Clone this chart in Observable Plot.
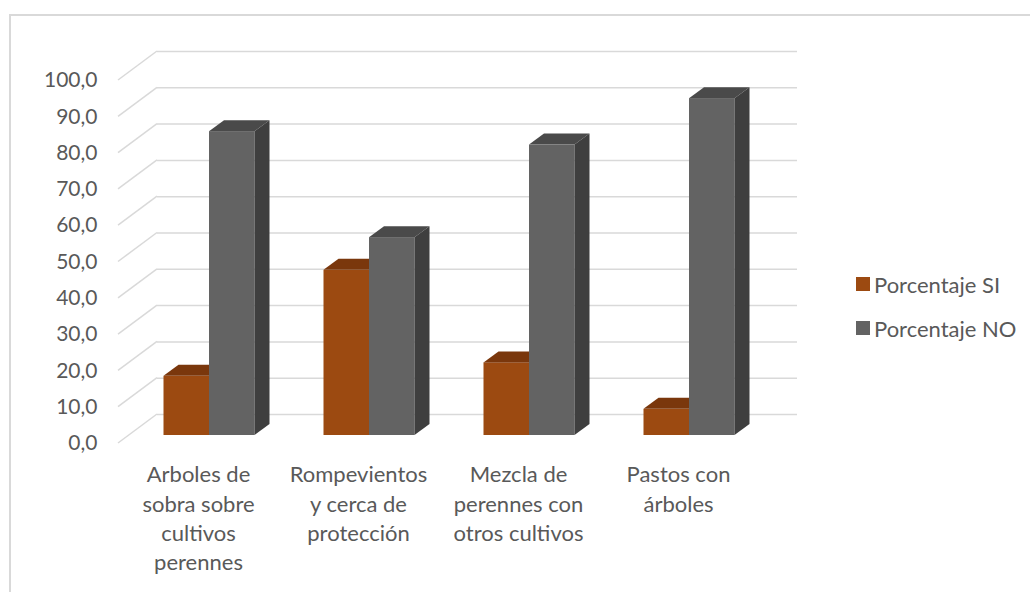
<!DOCTYPE html>
<html>
<head>
<meta charset="utf-8">
<script src="https://cdn.jsdelivr.net/npm/d3@7"></script>
<script src="https://cdn.jsdelivr.net/npm/@observablehq/plot@0.6"></script>
<style>
  body { margin: 0; background: #fff; }
  #wrap { position: relative; width: 1030px; height: 592px; overflow: hidden; font-family: Lato, "Open Sans", sans-serif; }
  #border { position: absolute; left: 9px; top: 14px; width: 1200px; height: 800px; border-top: 2px solid #d9d9d9; border-left: 2px solid #d9d9d9; }
  #chart { position: absolute; left: 0; top: 0; }
  #legend { position: absolute; left: 856px; top: 270px; color: #595959; font-size: 22px; }
  .item { display: flex; align-items: center; height: 28px; margin-bottom: 16px; white-space: nowrap; }
  .sw { width: 14px; height: 14px; margin-right: 4px; }
</style>
</head>
<body>
<div id="wrap">
  <div id="border"></div>
  <div id="chart"></div>
  <div id="legend"></div>
</div>
<script>
const categories = [
  "Arboles de\nsobra sobre\ncultivos\nperennes",
  "Rompevientos\ny cerca de\nprotección",
  "Mezcla de\nperennes con\notros cultivos",
  "Pastos con\nárboles"
];
const seriesNames = ["Porcentaje SI", "Porcentaje NO"];
const valuesSI = [16.3, 45.5, 20.0, 7.2];
const valuesNO = [83.7, 54.5, 80.0, 92.8];
const yTicks = [0, 10, 20, 30, 40, 50, 60, 70, 80, 90, 100];

const colorFront = {"Porcentaje SI": "#9c4a11", "Porcentaje NO": "#636363"};
const colorTop = {"Porcentaje SI": "#7a370c", "Porcentaje NO": "#4a4a4a"};
const colorSide = {"Porcentaje SI": "#6a300a", "Porcentaje NO": "#3f3f3f"};

const rowsSI = categories.map((c, i) => ({category: c, series: seriesNames[0], value: valuesSI[i]}));
const rowsNO = categories.map((c, i) => ({category: c, series: seriesNames[1], value: valuesNO[i]}));

const W = 1030, H = 592;
const mLeft = 129, mRight = 261, mTop = 72, mBottom = 157;
const step = (W - mLeft - mRight) / categories.length; // band step
const barW = 45.5;
const depth = [15, -11];     // bar depth offset
const back = [28, -21];      // back wall offset
const front = [-11, 8];      // front floor offset
const grid = "#d9d9d9";

function barLeft(scales, d) {
  const c = scales.x(d.category) + scales.x.bandwidth() / 2;
  return d.series === seriesNames[0] ? c - barW : c;
}

function facesMark(rows, withSide) {
  return (index, scales) => {
    const g = d3.create("svg:g");
    const y0 = scales.y(0);
    for (const d of rows) {
      const xl = barLeft(scales, d), xr = xl + barW, yt = scales.y(d.value);
      g.append("path")
        .attr("d", `M${xl},${yt}L${xr},${yt}L${xr + depth[0]},${yt + depth[1]}L${xl + depth[0]},${yt + depth[1]}Z`)
        .attr("fill", colorTop[d.series]);
      if (withSide) {
        g.append("path")
          .attr("d", `M${xr},${yt}L${xr + depth[0]},${yt + depth[1]}L${xr + depth[0]},${y0 + depth[1]}L${xr},${y0}Z`)
          .attr("fill", colorSide[d.series]);
      }
    }
    return g.node();
  };
}

function floorDiagonals(index, scales) {
  const g = d3.create("svg:g");
  const x0 = scales.x(categories[0]);
  for (const t of yTicks) {
    const yy = scales.y(t);
    g.append("line")
      .attr("x1", x0 + back[0]).attr("y1", yy + back[1])
      .attr("x2", x0 + front[0]).attr("y2", yy + front[1])
      .attr("stroke", grid).attr("stroke-width", 1.5);
  }
  return g.node();
}

const chart = Plot.plot({
  width: W,
  height: H,
  marginLeft: mLeft,
  marginRight: mRight,
  marginTop: mTop,
  marginBottom: mBottom,
  x: {type: "band", domain: categories, padding: 0},
  y: {domain: [0, 100]},
  style: {fontFamily: "Lato, 'Open Sans', sans-serif", fontSize: "21px", color: "#595959", background: "transparent", overflow: "visible"},
  marks: [
    Plot.ruleY(yTicks, {dx: back[0], dy: back[1], stroke: grid, strokeWidth: 1.5}),
    floorDiagonals,
    Plot.axisY({ticks: yTicks, tickSize: 0, tickPadding: 32, dy: 8, label: null,
      tickFormat: d => d.toFixed(1).replace(".", ","), fontSize: 21, fill: "#595959"}),
    Plot.axisX({tickSize: 0, tickPadding: 26, dx: -11, label: null, fontSize: 22, lineHeight: 1.33, fill: "#595959"}),
    Plot.barY(rowsSI, {x: "category", y: "value", fill: colorFront[seriesNames[0]],
      insetLeft: step / 2 - barW, insetRight: step / 2}),
    facesMark(rowsSI, false),
    Plot.barY(rowsNO, {x: "category", y: "value", fill: colorFront[seriesNames[1]],
      insetLeft: step / 2, insetRight: step / 2 - barW}),
    facesMark(rowsNO, true)
  ]
});
document.getElementById("chart").appendChild(chart);

const legend = d3.select("#legend");
for (const s of seriesNames) {
  const it = legend.append("div").attr("class", "item");
  it.append("div").attr("class", "sw").style("background", colorFront[s]);
  it.append("span").text(s);
}
</script>
</body>
</html>
